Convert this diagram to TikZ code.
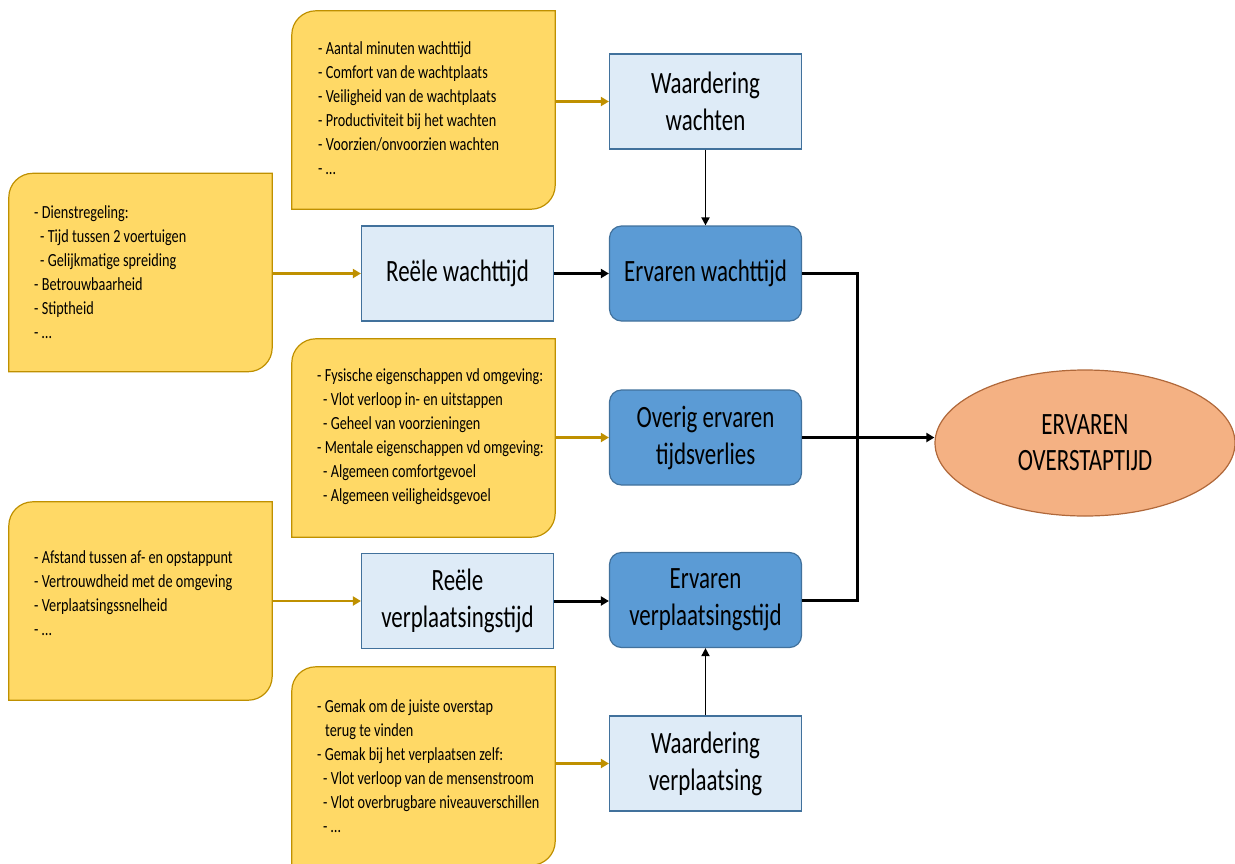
\documentclass[tikz,border=0pt]{standalone}
\usepackage{fontspec}
\setmainfont{Carlito}
\newfontfamily\notefont{Carlito}[FakeStretch=0.77]
\newfontfamily\boxfont{Carlito}[FakeStretch=0.74]
\usetikzlibrary{arrows.meta,shapes.geometric}

\definecolor{notefill}{HTML}{FFD966}
\definecolor{noteedge}{HTML}{BF9000}
\definecolor{lightfill}{HTML}{DEEBF7}
\definecolor{boxedge}{HTML}{41719C}
\definecolor{darkfill}{HTML}{5B9BD5}
\definecolor{ovalfill}{HTML}{F4B183}
\definecolor{ovaledge}{HTML}{B0683A}

\tikzset{
  notebox/.style={draw=none, inner sep=0pt, minimum width=263pt, minimum height=198pt},
  noteline/.style={draw=noteedge, fill=notefill, line width=1.2pt},
  notetext/.style={anchor=west, inner sep=0pt, align=left,
    font=\notefont\fontsize{18.5}{24}\selectfont},
  lightbox/.style={draw=boxedge, fill=lightfill, line width=1.2pt, minimum width=192pt,
    minimum height=95pt, inner sep=2pt, align=center,
    font=\boxfont\fontsize{31}{37}\selectfont},
  darkbox/.style={draw=boxedge, fill=darkfill, line width=1.2pt, rounded corners=12pt,
    minimum width=192pt, minimum height=95pt, inner sep=2pt, align=center,
    font=\boxfont\fontsize{31}{37}\selectfont},
  oval/.style={ellipse, draw=ovaledge, fill=ovalfill, line width=1.2pt, minimum width=300pt,
    minimum height=146pt, inner sep=0pt, align=center,
    font=\boxfont\fontsize{31}{36}\selectfont},
  goldarrow/.style={draw=noteedge, line width=2.6pt, -{Triangle[length=8pt,width=9pt]}},
  thinarrow/.style={draw=black, line width=1.8pt, -{Triangle[length=8pt,width=8pt]}},
  thickarrow/.style={draw=black, line width=3pt, -{Triangle[length=8pt,width=9pt]}},
  thickline/.style={draw=black, line width=3pt},
}

% note box outline: rounded top-left and bottom-right corners
\newcommand\noteoutline[1]{%
  \path[noteline] (#1.west) {[rounded corners=24pt] -- (#1.north west) -- (#1.north)}
    -- (#1.north east) -- (#1.east)
    {[rounded corners=24pt] -- (#1.south east) -- (#1.south)}
    -- (#1.south west) -- cycle;}
\newcommand\sub{\hspace*{6pt}}

\begin{document}
\begin{tikzpicture}[x=1pt,y=-1pt]
\useasboundingbox (0,0) rectangle (1235,863);

% note boxes
\node[notebox] (n1) at (423.5,110) {};
\node[notebox] (n2) at (140.5,272.5) {};
\node[notebox] (n3) at (423.5,438) {};
\node[notebox] (n4) at (140.5,601) {};
\node[notebox] (n5) at (423.5,766) {};
\noteoutline{n1}
\noteoutline{n2}
\noteoutline{n3}
\noteoutline{n4}
\noteoutline{n5}

\node[notetext] (t1) at (318,108.5) {- Aantal minuten wachttijd\\- Comfort van de wachtplaats\\- Veiligheid van de wachtplaats\\- Productiviteit bij het wachten\\- Voorzien/onvoorzien wachten\\- \dots};
\node[notetext] (t2) at (34,272) {- Dienstregeling:\\\sub- Tijd tussen 2 voertuigen\\\sub- Gelijkmatige spreiding\\- Betrouwbaarheid\\- Stiptheid\\- \dots};
\node[notetext] (t3) at (317,437) {- Fysische eigenschappen vd omgeving:\\\sub- Vlot verloop in- en uitstappen\\\sub- Geheel van voorzieningen\\- Mentale eigenschappen vd omgeving:\\\sub- Algemeen comfortgevoel\\\sub- Algemeen veiligheidsgevoel};
\node[notetext] (t4) at (34,593) {- Afstand tussen af- en opstappunt\\- Vertrouwdheid met de omgeving\\- Verplaatsingssnelheid\\- \dots};
\node[notetext] (t5) at (317,766) {- Gemak om de juiste overstap\\\hspace*{8pt}terug te vinden\\- Gemak bij het verplaatsen zelf:\\\sub- Vlot verloop van de mensenstroom\\\sub- Vlot overbrugbare niveauverschillen\\\sub- \dots};

% factor boxes
\node[lightbox] (ww) at (705.5,101.5) {Waardering\\wachten};
\node[lightbox] (rw) at (457.5,273.5) {Reële wachttijd};
\node[lightbox] (rv) at (457.5,601) {Reële\\verplaatsingstijd};
\node[lightbox] (wv) at (705.5,763.5) {Waardering\\verplaatsing};

% experienced components
\node[darkbox] (ew) at (705.5,273.5) {Ervaren wachttijd};
\node[darkbox] (ot) at (705.5,437.5) {Overig ervaren\\tijdsverlies};
\node[darkbox] (ev) at (705.5,600) {Ervaren\\verplaatsingstijd};

% result
\node[oval] (eo) at (1085,443) {ERVAREN\\OVERSTAPTIJD};

% inputs from the note boxes
\draw[goldarrow] (n1.east |- ww.west) -- (ww.west);
\draw[goldarrow] (n2.east |- rw.west) -- (rw.west);
\draw[goldarrow] (n3.east |- ot.west) -- (ot.west);
\draw[goldarrow] (n4.east |- rv.west) -- (rv.west);
\draw[goldarrow] (n5.east |- wv.west) -- (wv.west);

% factors to experienced components
\draw[thinarrow] (ww.south) -- (ew.north);
\draw[thinarrow] (wv.north) -- (ev.south);
\draw[thickarrow] (rw.east) -- (ew.west);
\draw[thickarrow] (rv.east) -- (rv.east -| ev.west);

% combination into the result
\coordinate (jt) at (857,273.5);
\coordinate (jb) at (857,600);
\draw[thickline] (ew.east) -- (jt) -- (jb) -- (ev.east);
\draw[thickarrow] (ot.east) -- (ot.east -| eo.west);
\end{tikzpicture}
\end{document}
